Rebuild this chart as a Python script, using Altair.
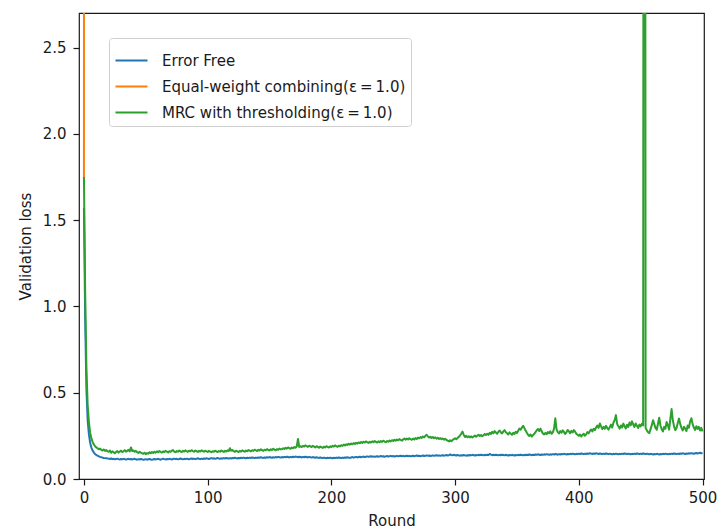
import altair as alt
import pandas as pd

series_names = [
    "Error Free",
    "Equal-weight combining(\u03b5\u2009=\u20091.0)",
    "MRC with thresholding(\u03b5\u2009=\u20091.0)",
]
series_colors = ["#1f77b4", "#ff7f0e", "#2ca02c"]

x_ticks = [0, 100, 200, 300, 400, 500]
y_ticks = [0.0, 0.5, 1.0, 1.5, 2.0, 2.5]

error_free = [
    1.57, 0.92, 0.52, 0.34, 0.26, 0.21, 0.182, 0.165, 0.153, 0.145,
    0.139, 0.135, 0.131, 0.128, 0.126, 0.124, 0.122, 0.121, 0.12, 0.119,
    0.118, 0.116, 0.119, 0.115, 0.117, 0.114, 0.116, 0.118, 0.115, 0.113, 0.116, 0.114, 0.117, 0.115, 0.112, 0.115, 0.117, 0.114, 0.116, 0.113,
    0.115, 0.117, 0.114, 0.112, 0.115, 0.113, 0.116, 0.114, 0.111, 0.113, 0.115, 0.112, 0.114, 0.116, 0.113, 0.111, 0.114, 0.116, 0.113, 0.115,
    0.117, 0.114, 0.112, 0.115, 0.118, 0.115, 0.113, 0.116, 0.114, 0.117, 0.115, 0.113, 0.116, 0.118, 0.115, 0.117, 0.114, 0.116, 0.119, 0.116,
    0.114, 0.117, 0.115, 0.118, 0.116, 0.114, 0.117, 0.119, 0.116, 0.118, 0.115, 0.117, 0.12, 0.117, 0.115, 0.118, 0.116, 0.119, 0.117, 0.12,
    0.118, 0.116, 0.119, 0.121, 0.118, 0.12, 0.117, 0.119, 0.122, 0.119, 0.117, 0.12, 0.118, 0.121, 0.119, 0.122, 0.12, 0.118, 0.121, 0.119,
    0.122, 0.12, 0.123, 0.121, 0.119, 0.122, 0.12, 0.123, 0.121, 0.124, 0.122, 0.12, 0.123, 0.121, 0.124, 0.122, 0.125, 0.123, 0.121, 0.124,
    0.122, 0.125, 0.123, 0.126, 0.124, 0.122, 0.125, 0.123, 0.126, 0.124, 0.127, 0.125, 0.123, 0.126, 0.124, 0.127, 0.125, 0.128, 0.126, 0.124,
    0.127, 0.125, 0.128, 0.126, 0.129, 0.127, 0.125, 0.128, 0.126, 0.129, 0.127, 0.13, 0.128, 0.126, 0.129, 0.127, 0.125, 0.128, 0.126, 0.129,
    0.127, 0.125, 0.128, 0.126, 0.124, 0.127, 0.125, 0.123, 0.126, 0.124, 0.122, 0.125, 0.123, 0.121, 0.124, 0.122, 0.12, 0.123, 0.121, 0.124,
    0.122, 0.12, 0.123, 0.121, 0.124, 0.122, 0.125, 0.123, 0.121, 0.124, 0.122, 0.125, 0.123, 0.126, 0.124, 0.122, 0.125, 0.127, 0.124, 0.126,
    0.128, 0.125, 0.127, 0.129, 0.126, 0.128, 0.13, 0.127, 0.129, 0.131, 0.128, 0.13, 0.132, 0.129, 0.131, 0.128, 0.13, 0.132, 0.129, 0.131,
    0.133, 0.13, 0.132, 0.129, 0.131, 0.133, 0.13, 0.132, 0.134, 0.131, 0.133, 0.13, 0.132, 0.134, 0.131, 0.133, 0.135, 0.132, 0.134, 0.131,
    0.133, 0.135, 0.132, 0.134, 0.131, 0.133, 0.135, 0.132, 0.134, 0.136, 0.133, 0.135, 0.132, 0.134, 0.136, 0.133, 0.135, 0.137, 0.134, 0.136,
    0.133, 0.135, 0.137, 0.134, 0.136, 0.138, 0.135, 0.137, 0.134, 0.136, 0.138, 0.135, 0.137, 0.139, 0.136, 0.138, 0.142, 0.139, 0.137, 0.14,
    0.138, 0.136, 0.139, 0.137, 0.135, 0.138, 0.136, 0.139, 0.137, 0.135, 0.138, 0.136, 0.139, 0.137, 0.14, 0.138, 0.136, 0.139, 0.137, 0.14,
    0.138, 0.141, 0.139, 0.137, 0.14, 0.138, 0.141, 0.139, 0.145, 0.141, 0.138, 0.14, 0.138, 0.141, 0.139, 0.137, 0.14, 0.138, 0.141, 0.139,
    0.137, 0.14, 0.138, 0.136, 0.139, 0.137, 0.14, 0.138, 0.136, 0.139, 0.137, 0.14, 0.138, 0.141, 0.139, 0.137, 0.14, 0.138, 0.141, 0.139,
    0.142, 0.14, 0.138, 0.141, 0.139, 0.142, 0.14, 0.143, 0.141, 0.139, 0.142, 0.14, 0.143, 0.141, 0.144, 0.142, 0.14, 0.143, 0.141, 0.144,
    0.142, 0.145, 0.143, 0.141, 0.144, 0.142, 0.145, 0.143, 0.146, 0.144, 0.142, 0.145, 0.143, 0.146, 0.144, 0.147, 0.145, 0.143, 0.146, 0.144,
    0.147, 0.145, 0.148, 0.146, 0.144, 0.147, 0.145, 0.148, 0.146, 0.149, 0.147, 0.145, 0.148, 0.146, 0.149, 0.147, 0.145, 0.148, 0.146, 0.144,
    0.147, 0.145, 0.148, 0.146, 0.144, 0.147, 0.145, 0.143, 0.146, 0.144, 0.147, 0.145, 0.143, 0.146, 0.144, 0.147, 0.145, 0.148, 0.146, 0.144,
    0.147, 0.145, 0.143, 0.146, 0.144, 0.147, 0.145, 0.148, 0.146, 0.144, 0.147, 0.145, 0.148, 0.146, 0.144, 0.147, 0.145, 0.143, 0.146, 0.144,
    0.142, 0.145, 0.143, 0.146, 0.144, 0.142, 0.145, 0.143, 0.146, 0.144, 0.147, 0.145, 0.143, 0.146, 0.144, 0.147, 0.145, 0.148, 0.146, 0.144,
    0.147, 0.145, 0.148, 0.146, 0.149, 0.147, 0.145, 0.148, 0.146, 0.149, 0.147, 0.15, 0.148, 0.146, 0.149, 0.151, 0.148, 0.15, 0.152, 0.149,
    0.151,
]

equal_weight = [1.75, 40.0, 900.0]

mrc_threshold = [
    1.75, 1.08, 0.64, 0.43, 0.33, 0.27, 0.235, 0.215, 0.2, 0.19,
    0.183, 0.178, 0.172, 0.176, 0.169, 0.165, 0.171, 0.163, 0.168, 0.16,
    0.158, 0.165, 0.152, 0.16, 0.155, 0.149, 0.157, 0.162, 0.153, 0.159, 0.164, 0.156, 0.161, 0.167, 0.158, 0.163, 0.169, 0.16, 0.183, 0.162,
    0.165, 0.158, 0.163, 0.155, 0.151, 0.158, 0.153, 0.149, 0.146, 0.152, 0.144, 0.15, 0.147, 0.155, 0.149, 0.156, 0.151, 0.158, 0.153, 0.16,
    0.155, 0.162, 0.157, 0.153, 0.16, 0.156, 0.163, 0.158, 0.154, 0.161, 0.157, 0.164, 0.168, 0.159, 0.155, 0.162, 0.158, 0.165, 0.16, 0.156,
    0.163, 0.159, 0.166, 0.161, 0.157, 0.164, 0.16, 0.167, 0.162, 0.158, 0.165, 0.161, 0.157, 0.163, 0.159, 0.166, 0.162, 0.158, 0.164, 0.16,
    0.157, 0.163, 0.159, 0.155, 0.161, 0.158, 0.164, 0.16, 0.156, 0.162, 0.158, 0.165, 0.161, 0.157, 0.163, 0.159, 0.166, 0.162, 0.178, 0.164,
    0.168, 0.161, 0.157, 0.164, 0.16, 0.156, 0.163, 0.159, 0.166, 0.162, 0.158, 0.165, 0.161, 0.168, 0.164, 0.16, 0.167, 0.163, 0.17, 0.166,
    0.162, 0.169, 0.165, 0.172, 0.167, 0.163, 0.17, 0.166, 0.173, 0.169, 0.165, 0.172, 0.168, 0.175, 0.17, 0.166, 0.173, 0.169, 0.176, 0.172,
    0.172, 0.178, 0.174, 0.181, 0.176, 0.183, 0.179, 0.175, 0.182, 0.178, 0.185, 0.181, 0.188, 0.232, 0.186, 0.19, 0.185, 0.192, 0.188, 0.195,
    0.19, 0.186, 0.193, 0.189, 0.185, 0.192, 0.187, 0.183, 0.19, 0.186, 0.181, 0.188, 0.184, 0.18, 0.187, 0.183, 0.19, 0.186, 0.182, 0.189,
    0.185, 0.192, 0.188, 0.195, 0.19, 0.186, 0.193, 0.189, 0.196, 0.192, 0.199, 0.194, 0.201, 0.197, 0.204, 0.199, 0.206, 0.201, 0.208, 0.203,
    0.21, 0.205, 0.212, 0.207, 0.214, 0.209, 0.216, 0.211, 0.218, 0.213, 0.209, 0.216, 0.211, 0.218, 0.213, 0.22, 0.215, 0.211, 0.218, 0.213,
    0.22, 0.215, 0.222, 0.217, 0.213, 0.22, 0.216, 0.223, 0.218, 0.225, 0.22, 0.227, 0.222, 0.229, 0.224, 0.231, 0.226, 0.222, 0.229, 0.235,
    0.228, 0.234, 0.229, 0.236, 0.231, 0.227, 0.234, 0.229, 0.237, 0.232, 0.24, 0.235, 0.243, 0.238, 0.246, 0.241, 0.25, 0.256, 0.247, 0.24,
    0.245, 0.238, 0.243, 0.236, 0.241, 0.234, 0.239, 0.232, 0.237, 0.23, 0.235, 0.228, 0.233, 0.226, 0.222, 0.218, 0.224, 0.219, 0.226, 0.231,
    0.236, 0.23, 0.238, 0.244, 0.252, 0.262, 0.275, 0.255, 0.244, 0.25, 0.242, 0.248, 0.241, 0.247, 0.24, 0.246, 0.252, 0.245, 0.251, 0.256,
    0.249, 0.255, 0.248, 0.254, 0.261, 0.255, 0.262, 0.256, 0.268, 0.261, 0.273, 0.265, 0.278, 0.269, 0.262, 0.274, 0.281, 0.27, 0.264, 0.276,
    0.283, 0.271, 0.265, 0.258, 0.27, 0.263, 0.256, 0.268, 0.261, 0.274, 0.266, 0.28, 0.292, 0.286, 0.298, 0.308, 0.295, 0.281, 0.268, 0.256,
    0.249, 0.258, 0.246, 0.254, 0.262, 0.271, 0.283, 0.29, 0.278, 0.292, 0.276, 0.264, 0.258, 0.267, 0.259, 0.272, 0.265, 0.276, 0.262, 0.27,
    0.292, 0.352, 0.288, 0.272, 0.264, 0.278, 0.268, 0.282, 0.273, 0.261, 0.27, 0.284, 0.276, 0.265, 0.279, 0.27, 0.283, 0.274, 0.262, 0.256,
    0.25, 0.258, 0.247, 0.255, 0.262, 0.251, 0.259, 0.272, 0.264, 0.279, 0.287, 0.276, 0.291, 0.284, 0.298, 0.31, 0.296, 0.322, 0.305, 0.289,
    0.302, 0.291, 0.308, 0.295, 0.286, 0.3, 0.315, 0.298, 0.326, 0.342, 0.37, 0.318, 0.305, 0.292, 0.31, 0.298, 0.321, 0.306, 0.293, 0.314,
    0.302, 0.327, 0.311, 0.334, 0.316, 0.301, 0.322, 0.308, 0.296, 0.315, 0.305, 0.32, 0.31, 12.5, 0.295, 0.282, 0.271, 0.266, 0.289, 0.312,
    0.341, 0.318, 0.296, 0.285, 0.32, 0.355, 0.31, 0.288, 0.276, 0.302, 0.291, 0.33, 0.312, 0.286, 0.348, 0.405, 0.34, 0.305, 0.283, 0.296,
    0.325, 0.35, 0.318, 0.296, 0.281, 0.303, 0.292, 0.278, 0.31, 0.297, 0.334, 0.352, 0.318, 0.298, 0.284, 0.306, 0.29, 0.302, 0.281, 0.296,
    0.276,
]

all_series = [error_free, equal_weight, mrc_threshold]

rows = []
for name, values in zip(series_names, all_series):
    for i, v in enumerate(values):
        rows.append({"round": i, "loss": v, "series": name})
df = pd.DataFrame(rows)

FONT = "DejaVu Sans"
TEXT = "#1a1a1a"
FS = 15

color_enc = alt.Color(
    "series:N",
    scale=alt.Scale(domain=series_names, range=series_colors),
    legend=alt.Legend(
        title=None,
        orient="none",
        legendX=30,
        legendY=25,
        symbolType="stroke",
        symbolSize=1024,
        symbolStrokeWidth=2.2,
        labelFontSize=FS,
        labelFont=FONT,
        labelColor=TEXT,
        labelOffset=13,
        labelLimit=400,
        rowPadding=0,
        padding=5,
        fillColor="white",
        strokeColor="#d0d0d0",
        cornerRadius=3,
    ),
)

x_enc = alt.X(
    "round:Q",
    scale=alt.Scale(domain=[-4, 501.2], nice=False, zero=False),
    axis=alt.Axis(
        values=x_ticks,
        title="Round",
        grid=False,
        domain=False,
        tickSize=6,
        tickColor=TEXT,
        labelPadding=5,
        labelFlush=False,
        titlePadding=8,
    ),
)
y_enc = alt.Y(
    "loss:Q",
    scale=alt.Scale(domain=[0, 2.7], nice=False, zero=False),
    axis=alt.Axis(
        values=y_ticks,
        format=".1f",
        title="Validation loss",
        grid=False,
        domain=False,
        tickSize=6,
        tickColor=TEXT,
        labelPadding=7,
        titlePadding=9,
    ),
)

layers = []
for name in series_names:
    layers.append(
        alt.Chart(df)
        .transform_filter(alt.datum.series == name)
        .mark_line(clip=True, strokeWidth=2.0, strokeJoin="round")
        .encode(x=x_enc, y=y_enc, color=color_enc)
    )

chart = (
    alt.layer(*layers)
    .properties(
        width=625,
        height=466,
        padding={"left": 79, "top": 13, "right": 14, "bottom": 51},
        autosize=alt.AutoSizeParams(type="none"),
        background="white",
    )
    .configure_view(stroke=TEXT, strokeWidth=1.2)
    .configure_axis(
        labelFont=FONT,
        titleFont=FONT,
        labelFontSize=FS,
        titleFontSize=FS,
        labelColor=TEXT,
        titleColor=TEXT,
        titleFontWeight="normal",
        tickWidth=1.2,
    )
)

chart.save("out.html", embed_options={"renderer": "svg", "actions": False})
